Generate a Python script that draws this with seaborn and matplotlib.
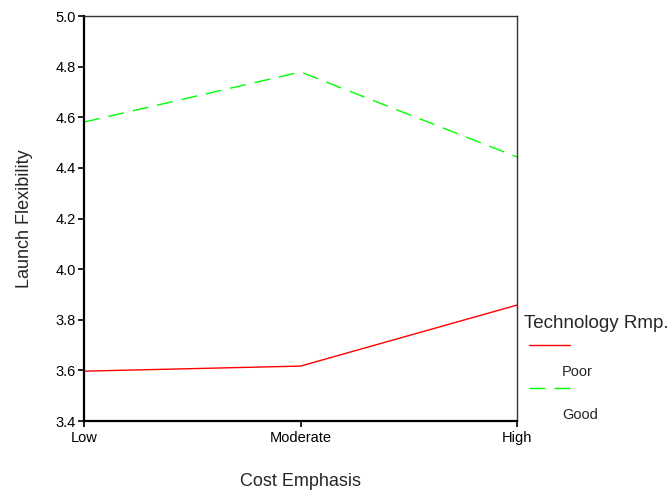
import pandas as pd
import numpy as np
import matplotlib
matplotlib.use("Agg")
import matplotlib.pyplot as plt
import seaborn as sns
from matplotlib.lines import Line2D

# cell means
cost_levels = ["Low", "Moderate", "High"]
tech_levels = ["Poor", "Good"]
poor_means = [3.597, 3.617, 3.858]
good_means = [4.581, 4.779, 4.443]

df = pd.DataFrame({
    "Cost Emphasis": cost_levels * 2,
    "Technology Rmp.": ["Poor"] * 3 + ["Good"] * 3,
    "Launch Flexibility": poor_means + good_means,
})
df["x"] = df["Cost Emphasis"].map({c: i for i, c in enumerate(cost_levels)})

sns.set_style("white")
plt.rcParams["font.family"] = ["Liberation Sans", "DejaVu Sans"]

fig = plt.figure(figsize=(6.69, 4.93), dpi=100)
ax = fig.add_axes([0.1256, 0.146, 0.6472, 0.8215])

colors = {"Poor": "#ff0000", "Good": "#00ff00"}
sns.lineplot(data=df, x="x", y="Launch Flexibility", hue="Technology Rmp.",
             style="Technology Rmp.", palette=colors,
             dashes={"Poor": "", "Good": (11.5, 6.5)},
             linewidth=1, legend=False, ax=ax)

ax.set_xlim(0, 2)
ax.set_ylim(3.4, 5.0)
ax.set_xticks(range(3))
ax.set_xticklabels(cost_levels)
ax.set_yticks(np.arange(3.4, 5.01, 0.2))
ax.set_yticklabels([f"{v:.1f}" for v in np.arange(3.4, 5.01, 0.2)])
ax.tick_params(axis="both", direction="out", length=4, width=1.2, labelsize=10.5,
               left=True, bottom=True, pad=2, colors="black")
ax.tick_params(axis="x", pad=3)
for s in ["left", "bottom"]:
    ax.spines[s].set_linewidth(1.6)
    ax.spines[s].set_color("black")
for s in ["top", "right"]:
    ax.spines[s].set_linewidth(1.0)
    ax.spines[s].set_color("#333333")
ax.set_xlabel("Cost Emphasis", fontsize=13, labelpad=20)
ax.set_ylabel("Launch Flexibility", fontsize=13, labelpad=16)

# SPSS-style legend to the right
fig.text(524 / 669, 1 - 324 / 493, "Technology Rmp.", fontsize=13.5, va="center", ha="left")
ypos = [345, 388]
for lvl, yy in zip(tech_levels, ypos):
    ls = "-" if lvl == "Poor" else (0, (11.5, 6.5))
    fig.add_artist(Line2D([529 / 669, 570 / 669], [1 - yy / 493, 1 - yy / 493],
                          color=colors[lvl], linewidth=1, linestyle=ls,
                          transform=fig.transFigure))
    fig.text(562 / 669, 1 - (yy + 27) / 493, lvl, fontsize=10.5, va="center", ha="left")

fig.savefig("out.png", dpi=100)
